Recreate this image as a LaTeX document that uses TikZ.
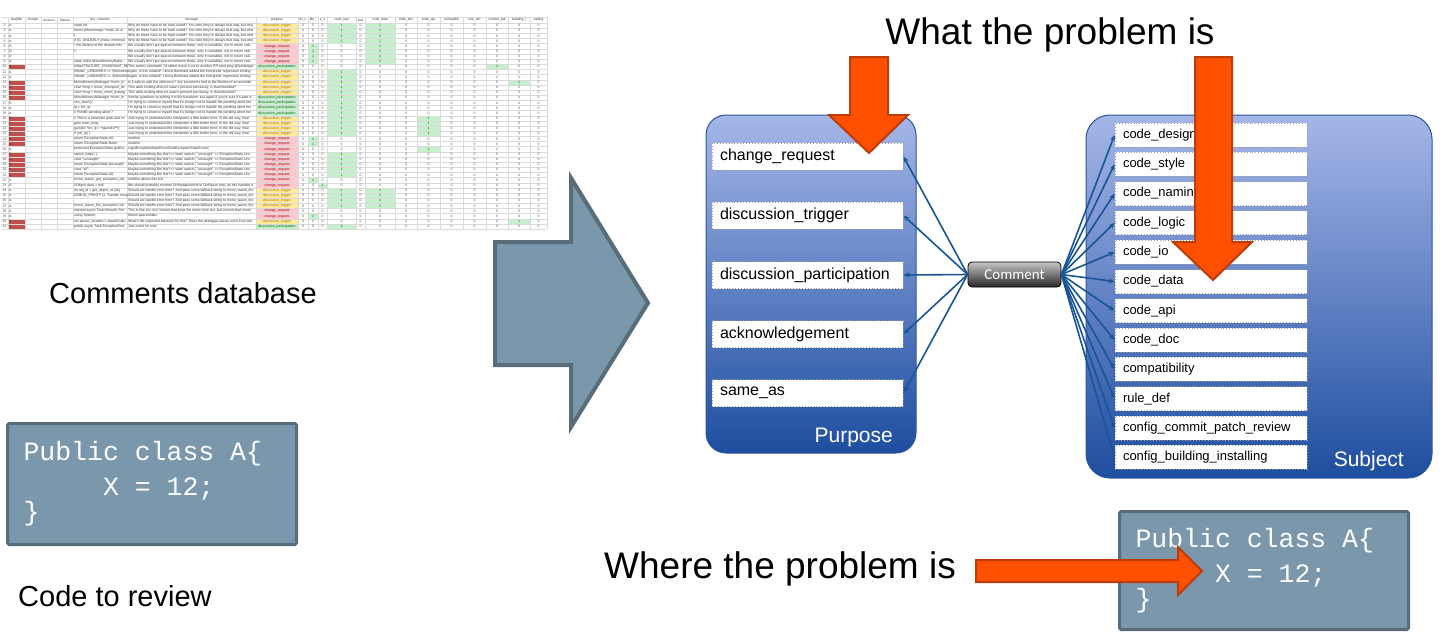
\documentclass[tikz,border=0pt]{standalone}
\usepackage{fontspec}
\setmainfont{Liberation Sans}
\newfontfamily\codefont{Liberation Mono}
\newfontfamily\cmtfont{Carlito}
\usetikzlibrary{arrows.meta}
\definecolor{slate}{RGB}{122,151,171}
\definecolor{slateb}{RGB}{88,108,122}
\definecolor{orng}{RGB}{255,80,0}
\definecolor{orngb}{RGB}{190,60,10}
\definecolor{boxtop}{RGB}{165,182,232}
\definecolor{boxmid}{RGB}{105,135,205}
\definecolor{boxbot}{RGB}{30,78,160}
\definecolor{boxline}{RGB}{45,85,155}
\definecolor{connc}{RGB}{25,85,150}
\definecolor{xfT}{RGB}{255,235,156}
\definecolor{xtT}{RGB}{170,110,0}
\definecolor{xfC}{RGB}{255,199,206}
\definecolor{xtC}{RGB}{156,0,6}
\definecolor{xfP}{RGB}{198,239,206}
\definecolor{xtP}{RGB}{0,97,0}
\definecolor{xgrn}{RGB}{198,239,206}
\definecolor{xred}{RGB}{192,80,77}
\definecolor{xgrid}{RGB}{218,218,218}
\definecolor{xtxt}{RGB}{90,90,90}
\def\labT{discussion\_trigger}
\def\labC{change\_request}
\def\labP{discussion\_participation}
\newcommand\msp{\hphantom{X}}
\newcommand\codelines{\codefont\fontsize{26.5}{35}\selectfont Public\msp class\msp A\{\\
  \codefont\fontsize{26.5}{35}\selectfont\msp\msp\msp\msp\msp X\msp=\msp12;\\
  \codefont\fontsize{26.5}{35}\selectfont\}}
\def\cl{{0,8,25,41,57,73,127,256,298,308,318,327,356,365,395,417,440,463,486,508,530,547}}
\def\rows{%
2/A/0/T/{static int}/{Why do these have to be hard coded? You note they're always that way, but whe},
3/A/0/T/{mono (MonoImage *meta, int si}/{Why do these have to be hard coded? You note they're always that way, but whe},
4/A/0/T/{\{}/{Why do these have to be hard coded? You note they're always that way, but whe},
5/A/0/T/{if (G\_UNLIKELY (meta->minimal}/{Why do these have to be hard coded? You note they're always that way, but whe},
6/D/0/C/{* the lifetime of the domain+dis}/{We usually don't put spaces between those, only in variables, not in return valu},
7/D/0/C/{*/}/{We usually don't put spaces between those, only in variables, not in return valu},
8/D/0/C/{}/{We usually don't put spaces between those, only in variables, not in return valu},
9/A/0/C/{static inline MonoMemoryMana}/{We usually don't put spaces between those, only in variables, not in return valu},
10/A/1/P/{\#ifdef FEATURE\_COVARIANT\_RE}/{This seems unrelated; I'd rather move it out to another PR (and ping @lambdage},
11/A/0/T/{\#ifndef \_LIBRARIES == !(NimerInted}/{Again, is this related? I know Bernhard added the interpreter regression testing},
12/A/0/T/{\#ifndef \_LIBRARIES == !(NimerInted}/{Again, is this related? I know Bernhard added the interpreter regression testing},
13/A/1/T/{MonoMemoryManager *mem\_m}/{Is it safe to add this reference? Are transforms tied to the lifetime of an assembl},
14/D/1/T/{char *msg = mono\_mempool\_str}/{This adds locking where it wasn't present previously, is that intended?},
15/A/1/T/{char *msg = mono\_mem\_manag}/{This adds locking where it wasn't present previously, is that intended?},
16/A/1/P/{MonoMemoryManager *mem\_m}/{Similar questions to adding it in the transform, but again if you're sure it's safe it},
17/D/0/P/{ves\_abort();}/{I'm trying to convince myself that it's benign not to handle the pending abort her},
18/A/0/P/{ip = init\_ip;}/{I'm trying to convince myself that it's benign not to handle the pending abort her},
19/A/0/P/{// FIXME pending abort ?}/{I'm trying to convince myself that it's benign not to handle the pending abort her},
20/D/1/T/{// This is a slow/rare path and co}/{Just trying to understand the interpreter a little better here; in the old way, final},
21/D/1/T/{goto main\_loop;}/{Just trying to understand the interpreter a little better here; in the old way, final},
22/A/1/T/{guint16 *ret\_ip = *(guint16**)(}/{Just trying to understand the interpreter a little better here; in the old way, final},
23/A/1/T/{if (ret\_ip) \{}/{Just trying to understand the interpreter a little better here; in the old way, final},
24/A/1/C/{return ExceptionState.All;}/{newline},
25/A/1/C/{return ExceptionState.None;}/{newline},
26/A/0/C/{protected ExceptionState getExc}/{s/getExceptionStateEnum/GetExceptionStateEnum/},
27/D/1/C/{switch (state) \{}/{Maybe something like this?<> state switch \{ "uncaught" => ExceptionState.Unc},
28/A/1/C/{case "uncaught":}/{Maybe something like this?<> state switch \{ "uncaught" => ExceptionState.Unc},
29/A/1/C/{return ExceptionState.Uncaught}/{Maybe something like this?<> state switch \{ "uncaught" => ExceptionState.Unc},
30/A/1/C/{case "all":}/{Maybe something like this?<> state switch \{ "uncaught" => ExceptionState.Unc},
31/A/1/C/{return ExceptionState.All;}/{Maybe something like this?<> state switch \{ "uncaught" => ExceptionState.Unc},
32/A/0/C/{mono\_wasm\_get\_exception\_obj}/{newline above this line},
33/A/0/C/{//Object data = null;}/{We should probably rename OnBreakpointHit to OnPause now, as this handles e},
34/A/0/T/{int obj\_id = get\_object\_id (obj}/{Should we handle error here? And pass some fallback string to mono\_wasm\_fire},
35/A/0/T/{DEBUG\_PRINTF (2, "handle excep}/{Should we handle error here? And pass some fallback string to mono\_wasm\_fire},
36/A/0/T/{}/{Should we handle error here? And pass some fallback string to mono\_wasm\_fire},
37/A/0/T/{mono\_wasm\_fire\_exception (ob}/{Should we handle error here? And pass some fallback string to mono\_wasm\_fire},
38/A/0/C/{internal async Task<Result> Set}/{This is fine too, but I meant that keep the enum here too, but convert that enum},
39/A/0/C/{using System;}/{Mixed spaces/tabs},
40/A/1/T/{var pause\_location = await Evalu}/{What's the expected behavior for this? Does the debugger pause even if we wer},
41/A/1/P/{public async Task ExceptionTest}/{Just a test for now}}
\tikzset{
  tiny/.style={font=\fontsize{3.5}{4}\selectfont, inner sep=0pt, text=xtxt},
  hdr/.style={font=\fontsize{3.3}{4}\selectfont, inner sep=0pt, text=black!80},
  lblP/.style={draw=gray!75, dotted, line width=0.9pt, fill=white, minimum height=27,
    text width=175, align=left, inner xsep=8, inner ysep=0, font=\fontsize{16}{18}\selectfont},
  lblS/.style={draw=gray!75, dotted, line width=0.9pt, fill=white, minimum height=24,
    text width=176, align=left, inner xsep=8, inner ysep=0, font=\fontsize{13}{16}\selectfont},
  conn/.style={draw=connc, line width=1.6pt, -{Stealth[length=6pt,width=5pt]}},
  cmt/.style={draw=black, line width=0.8pt, rounded corners=4, minimum width=93, minimum height=25,
    top color=gray!45, bottom color=black!85, text=white, font=\cmtfont\fontsize{15}{17}\selectfont},
  codebox/.style={draw=slateb, line width=3pt, fill=slate, rounded corners=1.5, minimum width=289,
    text width=257, align=left, inner xsep=16, text=white},
  orarrow/.style={fill=orng, draw=orngb, line width=2pt, line join=miter},
  bigtxt/.style={font=\fontsize{37}{40}\selectfont, inner sep=0pt},
  midtxt/.style={font=\fontsize{29}{32}\selectfont, inner sep=0pt},
  boxname/.style={font=\fontsize{21}{24}\selectfont, text=white, inner sep=0pt}
}
\begin{document}
\begin{tikzpicture}[x=1pt,y=-1pt]
\useasboundingbox (0,0) rectangle (1440,640);
\fill[white] (0,0) rectangle (1440,640);
% ---------------- spreadsheet ----------------
\foreach \r/\ad/\rd/\pp/\lc/\msg in \rows {
  \pgfmathsetmacro\yt{23+(\r-2)*5.15}
  \fill[xf\pp] (256,\yt) rectangle (298,\yt+5.15);
  \ifnum\rd=1 \fill[xred] (8,\yt) rectangle (25,\yt+5.15); \fi
}
\foreach \c/\rs in {11/{2,3,4,5,11,12,13,14,15,16,17,18,19,20,21,22,23,27,28,29,30,31,34,35,36,37,41},
  13/{2,3,4,5,6,7,8,9,34,35,36,37}, 9/{6,7,8,9,24,25,32,39}, 10/{33}, 18/{10}, 19/{13,40},
  15/{20,21,22,23,26}}{%
  \foreach \r in \rs {\expandafter\gdef\csname g\c x\r\endcsname{1}}}
\foreach \c in {8,...,20}{
  \pgfmathsetmacro\xl{\cl[\c]}\pgfmathsetmacro\xr{\cl[\c+1]}
  \foreach \r in {2,...,41}{
    \pgfmathsetmacro\yt{23+(\r-2)*5.15}
    \ifcsname g\c x\r\endcsname \fill[xgrn] (\xl,\yt) rectangle (\xr,\yt+5.15); \fi
  }}
\foreach \r in {0,...,40} \draw[xgrid, line width=0.3pt] (1,23+\r*5.15) -- (547,23+\r*5.15);
\draw[xgrid, line width=0.3pt] (1,17) -- (547,17);
\foreach \c in {1,...,21}{\pgfmathsetmacro\xl{\cl[\c]}\draw[xgrid, line width=0.3pt] (\xl,17) -- (\xl,229);}
\foreach \c/\h in {1/dee|ldb, 2/change, 3/revision, 4/filenan, 5/line\_contents, 6/message, 7/purpose,
  8/fix\_c, 9/ble\_, 10/e\_s, 11/code\_logi, 12/sub, 13/code\_data, 14/code\_doc, 15/code\_api,
  16/compatibil, 17/rule\_def, 18/commit\_pat, 19/building\_i, 20/setting}{
  \pgfmathsetmacro\xl{\cl[\c]}\pgfmathsetmacro\xr{\cl[\c+1]}
  \begin{scope}
  \clip (\xl,17) rectangle (\xr,23);
  \node[hdr] (h\c) at ({(\xl+\xr)/2},20) {\h};
  \end{scope}
}
\foreach \r/\ad/\rd/\pp/\lc/\msg in \rows {
  \pgfmathsetmacro\ym{23+(\r-2)*5.15+2.575}
  \node[tiny] (rn\r) at (4.5,\ym) {\r};
  \node[tiny, anchor=west, text=black!80] (ad\r) at (9,\ym) {\ad};
  \node[tiny, text=xt\pp] (pp\r) at (277,\ym) {\csname lab\pp\endcsname};
}
\begin{scope}
\clip (73,23) rectangle (127,229);
\foreach \r/\ad/\rd/\pp/\lc/\msg in \rows {
  \pgfmathsetmacro\ym{23+(\r-2)*5.15+2.575}
  \node[tiny, anchor=west, text=black!80] (lc\r) at (74,\ym) {\lc\strut};
}
\end{scope}
\begin{scope}
\clip (127,23) rectangle (256,229);
\foreach \r/\ad/\rd/\pp/\lc/\msg in \rows {
  \pgfmathsetmacro\ym{23+(\r-2)*5.15+2.575}
  \node[tiny, anchor=west, text=black!80] (ms\r) at (128,\ym) {\msg\strut};
}
\end{scope}
\foreach \c in {8,...,20}{
  \pgfmathsetmacro\xl{\cl[\c]}\pgfmathsetmacro\xr{\cl[\c+1]}
  \foreach \r in {2,...,41}{
    \pgfmathsetmacro\ym{23+(\r-2)*5.15+2.575}
    \ifcsname g\c x\r\endcsname
      \node[tiny, text=xtP] (v\c x\r) at ({(\xl+\xr)/2},\ym) {1};
    \else
      \node[tiny] (v\c x\r) at ({(\xl+\xr)/2},\ym) {0};
    \fi
  }}
% ---------------- left texts ----------------
\node[midtxt] (cdb) at (183,293) {Comments database};
\node[codebox, minimum height=121, anchor=north west] (code1) at (6,422) {\codelines};
\node[midtxt, anchor=west] (ctr) at (18,596) {Code to review};
\draw[fill=slate, draw=slateb, line width=4pt, line join=miter]
  (495,242) -- (571,242) -- (571,178) -- (648,303) -- (571,427) -- (571,365) -- (495,365) -- cycle;
% ---------------- purpose box ----------------
\shade[top color=boxtop, middle color=boxmid, bottom color=boxbot, rounded corners=20]
  (706,115) rectangle (916,453);
\draw[boxline, line width=1pt, rounded corners=20] (706,115) rectangle (916,453);
\node[lblP] (p1) at (807.5,156.5) {change\_request};
\node[lblP] (p2) at (807.5,215.5) {discussion\_trigger};
\node[lblP] (p3) at (807.5,275) {discussion\_participation};
\node[lblP] (p4) at (807.5,334) {acknowledgement};
\node[lblP] (p5) at (807.5,393) {same\_as};
\node[boxname, anchor=east] (pname) at (893,437) {Purpose};
% ---------------- subject box ----------------
\shade[top color=boxtop, middle color=boxmid, bottom color=boxbot, rounded corners=24]
  (1086,115) rectangle (1432,478);
\draw[boxline, line width=1pt, rounded corners=24] (1086,115) rectangle (1432,478);
\foreach \i/\t in {1/code\_design, 2/code\_style, 3/code\_naming, 4/code\_logic, 5/code\_io,
  6/code\_data, 7/code\_api, 8/code\_doc, 9/compatibility, 10/rule\_def,
  11/config\_commit\_patch\_review, 12/config\_building\_installing}{
  \node[lblS] (s\i) at (1211,{135+(\i-1)*29.3}) {\t};
}
\node[boxname, anchor=east] (sname) at (1404,461) {Subject};
% ---------------- comment + connectors ----------------
\node[cmt] (cm) at (1014.5,274.5) {Comment};
\foreach \i in {1,...,5} \draw[conn] (cm.west) -- (p\i.east);
\foreach \i in {1,...,12} \draw[conn] (cm.east) -- (s\i.west);
% ---------------- orange arrows + labels ----------------
\node[bigtxt] (what) at (1050,35) {What the problem is};
\draw[orarrow] (850,57) -- (888,57) -- (888,115) -- (908,115) -- (869,153) -- (829,115) -- (850,115) -- cycle;
\draw[orarrow] (1195,57) -- (1232,57) -- (1232,242) -- (1252,242) -- (1213,280) -- (1173,242) -- (1195,242) -- cycle;
\node[codebox, minimum height=118, anchor=north west] (code2) at (1118,510) {\codelines};
\node[bigtxt] (where) at (780,569) {Where the problem is};
\draw[orarrow] (976,560) -- (1178,560) -- (1178,547) -- (1202,571) -- (1178,595) -- (1178,582) -- (976,582) -- cycle;
\end{tikzpicture}
\end{document}
